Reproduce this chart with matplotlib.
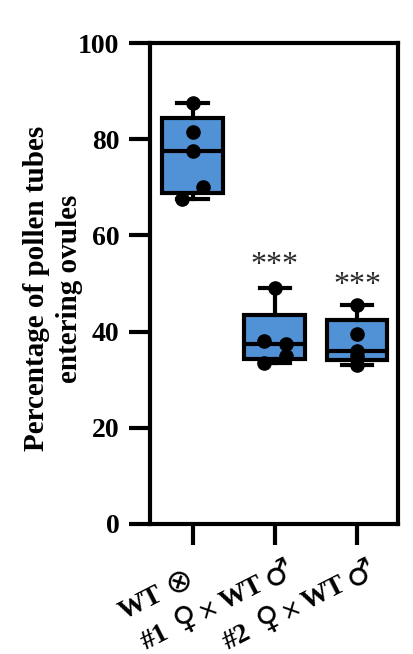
import numpy as np
import matplotlib
matplotlib.use("Agg")
import matplotlib.pyplot as plt
from matplotlib.transforms import offset_copy

plt.rcParams['font.family'] = ['Liberation Serif', 'DejaVu Serif', 'DejaVu Sans']
plt.rcParams['font.weight'] = 'bold'

# data
groups = ["WT \u2297", "#1 \u2640 \u00d7 WT \u2642", "#2 \u2640 \u00d7 WT \u2642"]
wt_self = [87.5, 81.5, 77.5, 70.0, 67.5]
line1_cross = [49.0, 38.0, 37.5, 35.0, 33.5]
line2_cross = [45.5, 39.5, 36.0, 35.0, 33.0]
signif = ["", "***", "***"]
yticks = [0, 20, 40, 60, 80, 100]

values = [wt_self, line1_cross, line2_cross]
positions = np.arange(len(values))

# quartiles like Prism, whiskers min to max
stats = []
for v in values:
    arr = np.asarray(v)
    q1, med, q3 = np.percentile(arr, [25, 50, 75], method='weibull')
    stats.append(dict(med=med, q1=q1, q3=q3, whislo=arr.min(), whishi=arr.max(), fliers=[]))

fig = plt.figure(figsize=(4.13, 6.54), dpi=100)
ax = fig.add_axes([0.363, 0.199, 0.601, 0.735])

lw = 3.0
ax.bxp(stats, positions=positions, widths=0.74, patch_artist=True, showfliers=False,
       boxprops=dict(facecolor='#5191d6', edgecolor='black', linewidth=lw),
       medianprops=dict(color='black', linewidth=lw),
       whiskerprops=dict(color='black', linewidth=lw),
       capprops=dict(color='black', linewidth=lw),
       capwidths=0.37, zorder=2)

# scatter points on top (small sideways spread like the original)
offsets = [[0.0, 0.0, 0.0, 0.13, -0.13], [0.0, -0.13, 0.13, 0.13, -0.13], [0.0, 0.0, 0.0, 0.0, 0.0]]
for p, v, off in zip(positions, values, offsets):
    ax.plot(p + np.asarray(off), v, 'o', color='black', markersize=9.5, zorder=3)

sig_gap = [0, 1.8, 1.0]
for p, v, s, g in zip(positions, values, signif, sig_gap):
    if s:
        ax.text(p, max(v) + g, s, ha='center', va='bottom', fontsize=23,
                fontweight='normal', color='#2a2a2a')

ax.set_xlim(-0.52, 2.5)
ax.set_ylim(0, 100)
ax.set_yticks(yticks)
ax.set_xticks(positions)
ax.set_xticklabels([])
ax.tick_params(axis='y', length=15, width=lw, labelsize=20, pad=7)
ax.tick_params(axis='x', length=15, width=lw)
for sp in ax.spines.values():
    sp.set_linewidth(lw)

ax.set_ylabel("Percentage of pollen tubes\nentering ovules", fontsize=21,
              fontweight='bold', linespacing=1.3)
ax.yaxis.set_label_coords(-0.27, 0.49)

# rotated tick labels built from pieces so the sex symbols keep a readable size
angle = 27
txt = dict(fontsize=20, fontweight='bold', family=['Liberation Serif', 'DejaVu Sans'])
sym = dict(fontsize=23, fontweight='normal', family=['DejaVu Sans'])
cross = dict(fontsize=17, fontweight='normal', family=['DejaVu Sans'])
label_pieces = [
    [("WT", txt, 7), ("\u2297", sym, 0)],
    [("#1", txt, 11), ("\u2640", sym, 3), ("\u00d7", cross, 4), ("WT", txt, 4), ("\u2642", sym, 0)],
    [("#2", txt, 11), ("\u2640", sym, 3), ("\u00d7", cross, 4), ("WT", txt, 4), ("\u2642", sym, 0)],
]
# end of each label baseline relative to its tick, in pixels
label_end = [(2, -60), (20, -50), (20, -50)]

renderer = fig.canvas.get_renderer()
ca, sa = np.cos(np.radians(angle)), np.sin(np.radians(angle))
for p, pieces, (ex, ey) in zip(positions, label_pieces, label_end):
    widths = []
    for s, props, gap in pieces:
        t = fig.text(0, 0, s, **props)
        widths.append(t.get_window_extent(renderer).width)
        t.remove()
    total = sum(widths) + sum(g for _, _, g in pieces)
    d = -total
    for (s, props, gap), w in zip(pieces, widths):
        tr = offset_copy(ax.get_xaxis_transform(), fig=fig, x=ex + d * ca, y=ey + d * sa, units='dots')
        ax.text(p, 0, s, transform=tr, rotation=angle, rotation_mode='anchor',
                ha='left', va='baseline', clip_on=False, **props)
        d += w + gap

fig.savefig("out.png", dpi=100)
